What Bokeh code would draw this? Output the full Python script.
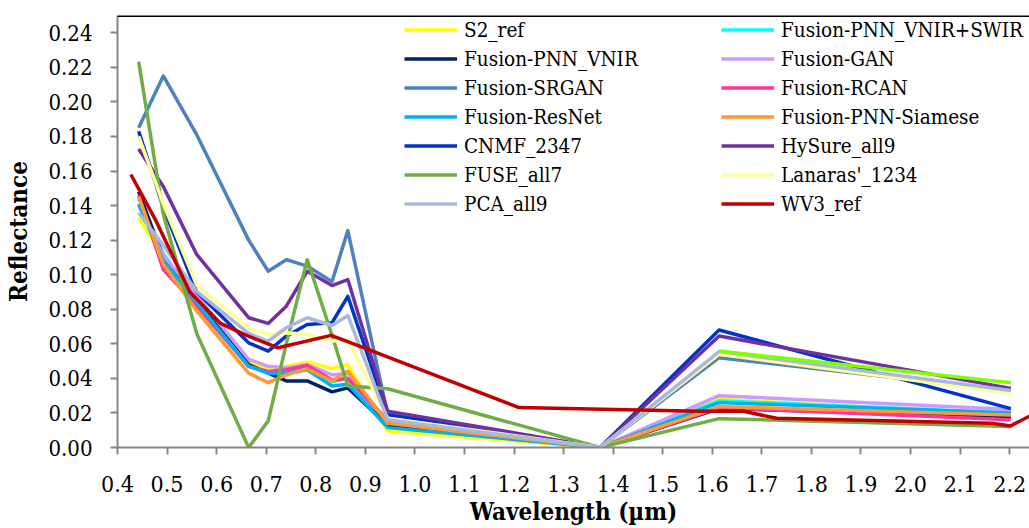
from bokeh.plotting import figure
from bokeh.models import Span, Legend, LegendItem, FixedTicker, NumeralTickFormatter, Range1d
from bokeh.embed import file_html
from bokeh.resources import INLINE

# ---- data ----
s2_wl = [0.4427, 0.4924, 0.5598, 0.6646, 0.7041, 0.7405, 0.7828, 0.8328, 0.8647, 0.9451, 1.3735, 1.6137, 2.2024]
wv3_wl = [0.427, 0.478, 0.546, 0.608, 0.659, 0.724, 0.831, 0.908, 1.210, 1.572, 1.661, 1.730, 2.164, 2.202, 2.259, 2.329]
extra_wl = [1.6137, 2.2024]

s2_ref = [0.133, 0.110, 0.088, 0.049, 0.0462, 0.047, 0.0494, 0.0458, 0.048, 0.0096, 0.0, 0.028, 0.019]
pnn_vnir_swir = [0.144, 0.112, 0.086, 0.048, 0.043, 0.044, 0.046, 0.038, 0.040, 0.013, 0.0, 0.027, 0.020]
pnn_vnir = [0.148, 0.110, 0.087, 0.048, 0.043, 0.0385, 0.0385, 0.0322, 0.0345, 0.013, 0.0, 0.0225, 0.018]
gan = [0.140, 0.111, 0.088, 0.051, 0.047, 0.046, 0.048, 0.042, 0.043, 0.015, 0.0, 0.030, 0.022]
srgan = [0.185, 0.215, 0.181, 0.120, 0.102, 0.1087, 0.105, 0.096, 0.1255, 0.019, 0.0, 0.052, 0.0327]
rcan = [0.146, 0.103, 0.082, 0.047, 0.044, 0.045, 0.0475, 0.039, 0.040, 0.0155, 0.0, 0.023, 0.016]
resnet = [0.141, 0.108, 0.084, 0.047, 0.043, 0.043, 0.045, 0.0356, 0.0366, 0.0115, 0.0, 0.026, 0.020]
siamese = [0.145, 0.106, 0.079, 0.043, 0.0375, 0.042, 0.0455, 0.0385, 0.0442, 0.014, 0.0, 0.0237, 0.0188]
cnmf = [0.183, 0.139, 0.090, 0.0606, 0.0558, 0.0644, 0.0712, 0.0722, 0.0875, 0.019, 0.0, 0.068, 0.0225]
hysure = [0.1727, 0.151, 0.1117, 0.0751, 0.0718, 0.0818, 0.102, 0.0937, 0.0972, 0.021, 0.0, 0.0645, 0.0342]
fuse = [0.2233, 0.135, 0.066, 0.000, 0.0154, 0.060, 0.1087, 0.065, 0.0356, 0.034, 0.0, 0.0167, 0.0121]
lanaras = [0.180, 0.141, 0.094, 0.0693, 0.0654, 0.0664, 0.0654, 0.0616, 0.0625, 0.017, 0.0, 0.0539, 0.0314]
pca = [0.1357, 0.117, 0.0904, 0.066, 0.0616, 0.0693, 0.0751, 0.0706, 0.0764, 0.016, 0.0, 0.0555, 0.033]
wv3_ref = [0.158, 0.131, 0.090, 0.0718, 0.065, 0.0577, 0.0649, 0.0565, 0.0231, 0.021, 0.0211, 0.0169, 0.014, 0.0125, 0.021, 0.020]
extra = [0.0558, 0.0375]

x_ticks = [0.4, 0.5, 0.6, 0.7, 0.8, 0.9, 1.0, 1.1, 1.2, 1.3, 1.4, 1.5, 1.6, 1.7, 1.8, 1.9, 2.0, 2.1, 2.2]
y_ticks = [0.00, 0.02, 0.04, 0.06, 0.08, 0.10, 0.12, 0.14, 0.16, 0.18, 0.20, 0.22, 0.24]

series = [
    ("S2_ref", s2_wl, s2_ref, "#FFFF00"),
    ("Fusion-PNN_VNIR+SWIR", s2_wl, pnn_vnir_swir, "#00FFFF"),
    ("Fusion-PNN_VNIR", s2_wl, pnn_vnir, "#002060"),
    ("Fusion-GAN", s2_wl, gan, "#CC99FF"),
    ("Fusion-SRGAN", s2_wl, srgan, "#4F81BD"),
    ("Fusion-RCAN", s2_wl, rcan, "#FF3399"),
    ("Fusion-ResNet", s2_wl, resnet, "#00B0F0"),
    ("Fusion-PNN-Siamese", s2_wl, siamese, "#FF9933"),
    ("CNMF_2347", s2_wl, cnmf, "#0033CC"),
    ("HySure_all9", s2_wl, hysure, "#7030A0"),
    ("FUSE_all7", s2_wl, fuse, "#70AD47"),
    ("Lanaras'_1234", s2_wl, lanaras, "#FFFF99"),
    ("PCA_all9", s2_wl, pca, "#A9B8DE"),
    ("", extra_wl, extra, "#80FF00"),
    ("WV3_ref", wv3_wl, wv3_ref, "#C00000"),
]

col1 = ["S2_ref", "Fusion-PNN_VNIR", "Fusion-SRGAN", "Fusion-ResNet", "CNMF_2347", "FUSE_all7", "PCA_all9"]
col2 = ["Fusion-PNN_VNIR+SWIR", "Fusion-GAN", "Fusion-RCAN", "Fusion-PNN-Siamese", "HySure_all9", "Lanaras'_1234", "WV3_ref"]

FONT = "DejaVu Serif Condensed"

p = figure(width=1029, height=528, x_range=Range1d(0.4, 2.24), y_range=Range1d(0, 0.25),
           output_backend="svg", toolbar_location=None,
           min_border_left=117, min_border_right=0, min_border_top=15, min_border_bottom=80)
p.xgrid.visible = False
p.ygrid.visible = False
p.outline_line_color = None
p.background_fill_color = "white"

renderers = {}
for name, xs, ys, color in series:
    r = p.line(xs, ys, line_color=color, line_width=3.5, line_join="round")
    if name:
        renderers[name] = r

p.add_layout(Span(location=0.25, dimension="width", line_color="black", line_width=3))

for ax in (p.xaxis[0], p.yaxis[0]):
    ax.axis_line_color = "#868686"
    ax.axis_line_width = 2
    ax.major_tick_line_color = "#868686"
    ax.major_tick_line_width = 2
    ax.major_tick_in = 0
    ax.major_tick_out = 7
    ax.minor_tick_line_color = None
    ax.major_label_text_font = FONT
    ax.major_label_text_color = "black"
    ax.axis_label_text_font = FONT
    ax.axis_label_text_font_style = "bold"
    ax.axis_label_text_color = "black"
    ax.axis_label_text_font_size = "24px"

p.xaxis.ticker = FixedTicker(ticks=x_ticks)
p.xaxis.formatter = NumeralTickFormatter(format="0.0")
p.xaxis.major_label_text_font_size = "23px"
p.xaxis.major_label_standoff = 21
p.xaxis.axis_label = "Wavelength (\u00b5m)"
p.xaxis.axis_label_standoff = 2

p.yaxis.ticker = FixedTicker(ticks=y_ticks)
p.yaxis.formatter = NumeralTickFormatter(format="0.00")
p.yaxis.major_label_text_font_size = "22px"
p.yaxis.major_label_standoff = 18
p.yaxis.axis_label = "Reflectance"
p.yaxis.axis_label_standoff = 12


def make_legend(names, x):
    items = [LegendItem(label=n, renderers=[renderers[n]]) for n in names]
    leg = Legend(items=items, location=(x, 229), orientation="vertical",
                 label_text_font=FONT, label_text_font_size="20.5px", label_text_color="black",
                 glyph_width=53, glyph_height=29, label_height=29, label_standoff=7,
                 spacing=0, padding=0, margin=0,
                 border_line_color=None, background_fill_alpha=0)
    return leg


p.add_layout(make_legend(col1, 287))
p.add_layout(make_legend(col2, 604))

open("out.html", "w").write(file_html(p, INLINE))
